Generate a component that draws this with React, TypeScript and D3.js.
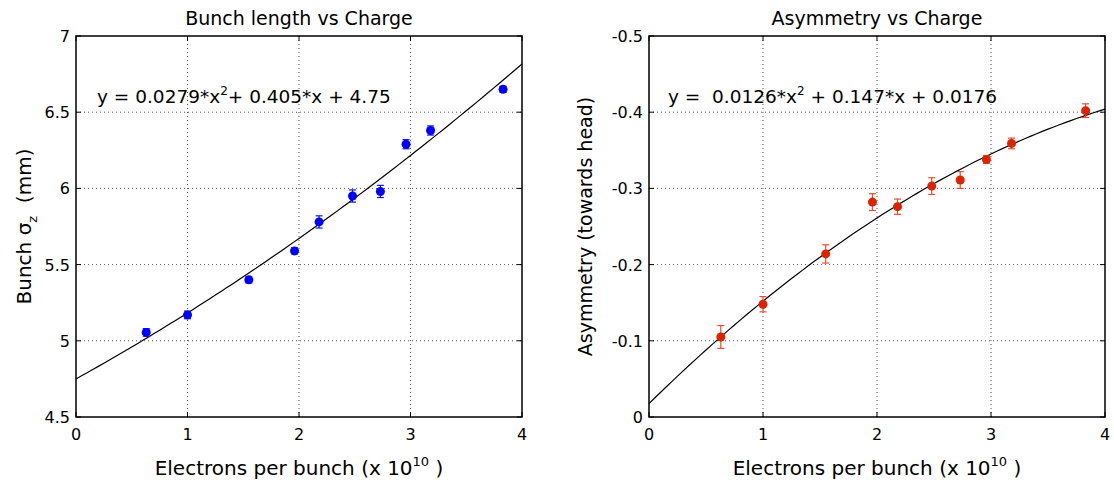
import React from "react";
import * as d3 from "d3";

const charge = [0.63, 1.0, 1.55, 1.96, 2.18, 2.48, 2.73, 2.96, 3.18, 3.83];
const bunchLen = [5.055, 5.17, 5.40, 5.59, 5.78, 5.95, 5.98, 6.29, 6.38, 6.65];
const bunchErr = [0.025, 0.025, 0.02, 0.02, 0.04, 0.04, 0.04, 0.03, 0.03, 0.02];
const asym = [-0.105, -0.148, -0.214, -0.282, -0.276, -0.303, -0.311, -0.338, -0.359, -0.402];
const asymErr = [0.015, 0.01, 0.012, 0.011, 0.01, 0.011, 0.011, 0.005, 0.007, 0.009];
const xTicks = [0, 1, 2, 3, 4];
const yTicksLeft = [4.5, 5, 5.5, 6, 6.5, 7];
const yTicksRight = [0, -0.1, -0.2, -0.3, -0.4, -0.5];
const fitLeft = [0.0279, 0.405, 4.75];
const fitRight = [-0.0126, 0.147, 0.0176];

const FONT = "'DejaVu Sans', Verdana, sans-serif";

type PanelProps = {
  left: number; right: number; top: number; bottom: number;
  yDomain: [number, number]; yTicks: number[]; yFmt: (v: number) => string;
  ys: number[]; errs: number[]; color: string; errColor: string;
  fit: number[]; sign: number; title: string; ylabel: React.ReactNode; eq: React.ReactNode;
  ylabelX: number; eqX: number; ylabelSize: number;
};

function Panel(p: PanelProps) {
  const x = d3.scaleLinear().domain([0, 4]).range([p.left, p.right]);
  const y = d3.scaleLinear().domain(p.yDomain).range([p.bottom, p.top]);
  const xs = d3.range(0, 4.0001, 0.05);
  const line = d3.line<number>()
    .x((v) => x(v))
    .y((v) => y(p.sign * (p.fit[0] * v * v + p.fit[1] * v + p.fit[2])));
  const cx = (p.left + p.right) / 2;
  return (
    <g fontFamily={FONT}>
      {xTicks.slice(1, -1).map((t) => (
        <line key={"gx" + t} x1={x(t)} x2={x(t)} y1={p.top} y2={p.bottom} stroke="#555" strokeWidth={1} strokeDasharray="1,3" />
      ))}
      {p.yTicks.slice(1, -1).map((t) => (
        <line key={"gy" + t} x1={p.left} x2={p.right} y1={y(t)} y2={y(t)} stroke="#555" strokeWidth={1} strokeDasharray="1,3" />
      ))}
      <path d={line(xs) || ""} fill="none" stroke="#000" strokeWidth={1.2} />
      {charge.map((c, i) => (
        <g key={"pt" + i}>
          <line x1={x(c)} x2={x(c)} y1={y(p.ys[i] - p.errs[i])} y2={y(p.ys[i] + p.errs[i])} stroke={p.errColor} strokeWidth={1.2} />
          <line x1={x(c) - 3.5} x2={x(c) + 3.5} y1={y(p.ys[i] - p.errs[i])} y2={y(p.ys[i] - p.errs[i])} stroke={p.errColor} strokeWidth={1.2} />
          <line x1={x(c) - 3.5} x2={x(c) + 3.5} y1={y(p.ys[i] + p.errs[i])} y2={y(p.ys[i] + p.errs[i])} stroke={p.errColor} strokeWidth={1.2} />
          <circle cx={x(c)} cy={y(p.ys[i])} r={4.5} fill={p.color} />
        </g>
      ))}
      <rect x={p.left} y={p.top} width={p.right - p.left} height={p.bottom - p.top} fill="none" stroke="#000" strokeWidth={1.5} />
      {xTicks.map((t) => (
        <g key={"xt" + t}>
          <line x1={x(t)} x2={x(t)} y1={p.bottom} y2={p.bottom - 5} stroke="#000" />
          <line x1={x(t)} x2={x(t)} y1={p.top} y2={p.top + 5} stroke="#000" />
          <text x={x(t)} y={p.bottom + 23} textAnchor="middle" fontSize={16}>{t}</text>
        </g>
      ))}
      {p.yTicks.map((t) => (
        <g key={"yt" + t}>
          <line x1={p.left} x2={p.left + 5} y1={y(t)} y2={y(t)} stroke="#000" />
          <line x1={p.right} x2={p.right - 5} y1={y(t)} y2={y(t)} stroke="#000" />
          <text x={p.left - 6} y={y(t) + 6} textAnchor="end" fontSize={16}>{p.yFmt(t)}</text>
        </g>
      ))}
      <text x={cx} y={25} textAnchor="middle" fontSize={19}>{p.title}</text>
      <text x={cx} y={475} textAnchor="middle" fontSize={20} xmlSpace="preserve">
        Electrons per bunch (x 10<tspan dy={-9} fontSize={13}>10</tspan><tspan dy={9}>{" )"}</tspan>
      </text>
      <text transform={`translate(${p.ylabelX},${(p.top + p.bottom) / 2}) rotate(-90)`} textAnchor="middle" fontSize={p.ylabelSize} xmlSpace="preserve">{p.ylabel}</text>
      <text x={p.eqX} y={103} fontSize={18.5} xmlSpace="preserve">{p.eq}</text>
    </g>
  );
}

export default function App() {
  return (
    <svg width={1114} height={485} style={{ display: "block", position: "absolute", left: 0, top: 0, background: "#fff" }}>
      <Panel
        left={76} right={522} top={36} bottom={417}
        yDomain={[4.5, 7]} yTicks={yTicksLeft} yFmt={(v) => String(v)}
        ys={bunchLen} errs={bunchErr} color="#0000ff" errColor="#1010ff"
        fit={fitLeft} sign={1} title="Bunch length vs Charge"
        ylabel={<>Bunch σ<tspan dy={6} fontSize={13}>z</tspan><tspan dy={-6}>{"  (mm)"}</tspan></>}
        eq={<>{"y = 0.0279*x"}<tspan dy={-8} fontSize={12}>2</tspan><tspan dy={8}>{"+ 0.405*x + 4.75"}</tspan></>}
        ylabelX={31} eqX={97} ylabelSize={20}
      />
      <Panel
        left={649} right={1105} top={36} bottom={417}
        yDomain={[0, -0.5]} yTicks={yTicksRight} yFmt={(v) => (v === 0 ? "0" : String(v))}
        ys={asym} errs={asymErr} color="#dd2200" errColor="#ee4a30"
        fit={fitRight} sign={-1} title="Asymmetry vs Charge"
        ylabel={<>Asymmetry (towards head)</>}
        eq={<>{"y =  0.0126*x"}<tspan dy={-8} fontSize={12}>2</tspan><tspan dy={8}>{" + 0.147*x + 0.0176"}</tspan></>}
        ylabelX={592} eqX={668} ylabelSize={19}
      />
    </svg>
  );
}
